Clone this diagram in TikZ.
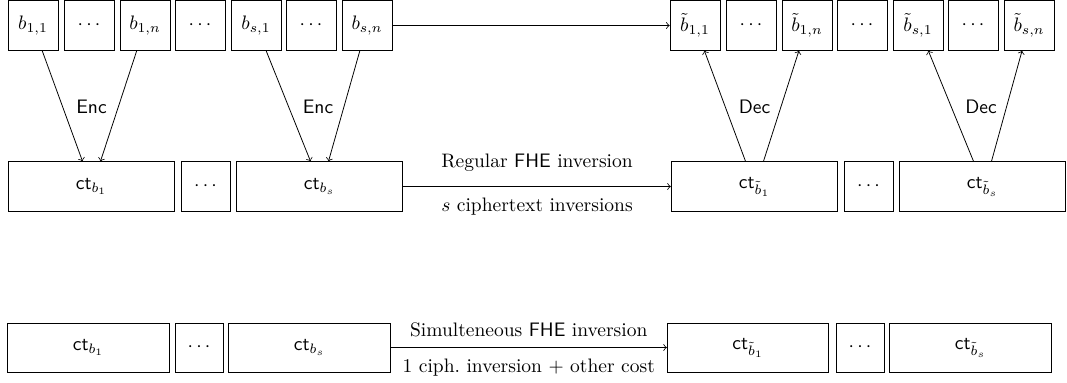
\documentclass[tikz,border=0pt]{standalone}
\usetikzlibrary{calc}
\begin{document}
\begin{tikzpicture}[x=0.5127pt,y=-0.5127pt,>=to,
  sq/.style={draw, minimum width=25.6pt, minimum height=25.4pt, inner sep=0pt},
  ctm/.style={draw, minimum width=85.4pt, minimum height=25.4pt, inner sep=0pt},
  dotm/.style={draw, minimum width=25.1pt, minimum height=25.4pt, inner sep=0pt},
  ctb/.style={draw, minimum width=82.8pt, minimum height=25.1pt, inner sep=0pt},
  dotb/.style={draw, minimum width=24.6pt, minimum height=25.1pt, inner sep=0pt},
  lab/.style={font=\sffamily}]
\useasboundingbox (0,0) rectangle (1067,382);
% top row left
\node[sq] (b11) at (33,25.5) {$b_{1,1}$};
\node[sq] (d1) at (89,25.5) {$\cdots$};
\node[sq] (b1n) at (145,25.5) {$b_{1,n}$};
\node[sq] (d2) at (200,25.5) {$\cdots$};
\node[sq] (bs1) at (256,25.5) {$b_{s,1}$};
\node[sq] (d3) at (311,25.5) {$\cdots$};
\node[sq] (bsn) at (367,25.5) {$b_{s,n}$};
% top row right
\node[sq] (t11) at (695,25.5) {$\tilde{b}_{1,1}$};
\node[sq] (d4) at (751,25.5) {$\cdots$};
\node[sq] (t1n) at (807,25.5) {$\tilde{b}_{1,n}$};
\node[sq] (d5) at (862,25.5) {$\cdots$};
\node[sq] (ts1) at (918,25.5) {$\tilde{b}_{s,1}$};
\node[sq] (d6) at (973,25.5) {$\cdots$};
\node[sq] (tsn) at (1029,25.5) {$\tilde{b}_{s,n}$};
% middle row
\node[ctm] (c1) at (91.5,186.5) {$\mathsf{ct}_{b_1}$};
\node[dotm] (cd1) at (205.5,186.5) {$\cdots$};
\node[ctm] (cs) at (319.5,186.5) {$\mathsf{ct}_{b_s}$};
\node[ctm] (ct1) at (754.5,186.5) {$\mathsf{ct}_{\tilde{b}_1}$};
\node[dotm] (cd2) at (868.5,186.5) {$\cdots$};
\node[ctm] (cts) at (982.5,186.5) {$\mathsf{ct}_{\tilde{b}_s}$};
% bottom row
\node[ctb] (e1) at (88.5,347.5) {$\mathsf{ct}_{b_1}$};
\node[dotb] (ed1) at (199,347.5) {$\cdots$};
\node[ctb] (es) at (309.5,347.5) {$\mathsf{ct}_{b_s}$};
\node[ctb] (et1) at (748,347.5) {$\mathsf{ct}_{\tilde{b}_1}$};
\node[dotb] (ed2) at (860,347.5) {$\cdots$};
\node[ctb] (ets) at (970.5,347.5) {$\mathsf{ct}_{\tilde{b}_s}$};
% Enc / Dec arrows
\draw[->] (b11) -- ([xshift=-4.6pt]c1.north);
\draw[->] (b1n) -- ([xshift=4.6pt]c1.north);
\draw[->] (bs1) -- ([xshift=-4.6pt]cs.north);
\draw[->] (bsn) -- ([xshift=4.6pt]cs.north);
\draw[->] ([xshift=-4.6pt]ct1.north) -- (t11);
\draw[->] ([xshift=4.6pt]ct1.north) -- (t1n);
\draw[->] ([xshift=-4.6pt]cts.north) -- (ts1);
\draw[->] ([xshift=4.6pt]cts.north) -- (tsn);
\node[lab] (enc1) at (91.5,107) {Enc};
\node[lab] (enc2) at (318,107) {Enc};
\node[lab] (dec1) at (754.5,107) {Dec};
\node[lab] (dec2) at (981,107) {Dec};
% horizontal arrows
\draw[->] (bsn) -- (t11);
\draw[->] (cs) -- node[yshift=12pt] (l1) {Regular $\mathsf{FHE}$ inversion}
                  node[yshift=-10.5pt] (l2) {$s$ ciphertext inversions} (ct1);
\draw[->] (es) -- node[yshift=9pt] (l3) {Simulteneous $\mathsf{FHE}$ inversion}
                  node[yshift=-10.5pt] (l4) {1 ciph.\ inversion $+$ other cost} (et1);
\end{tikzpicture}
\end{document}
